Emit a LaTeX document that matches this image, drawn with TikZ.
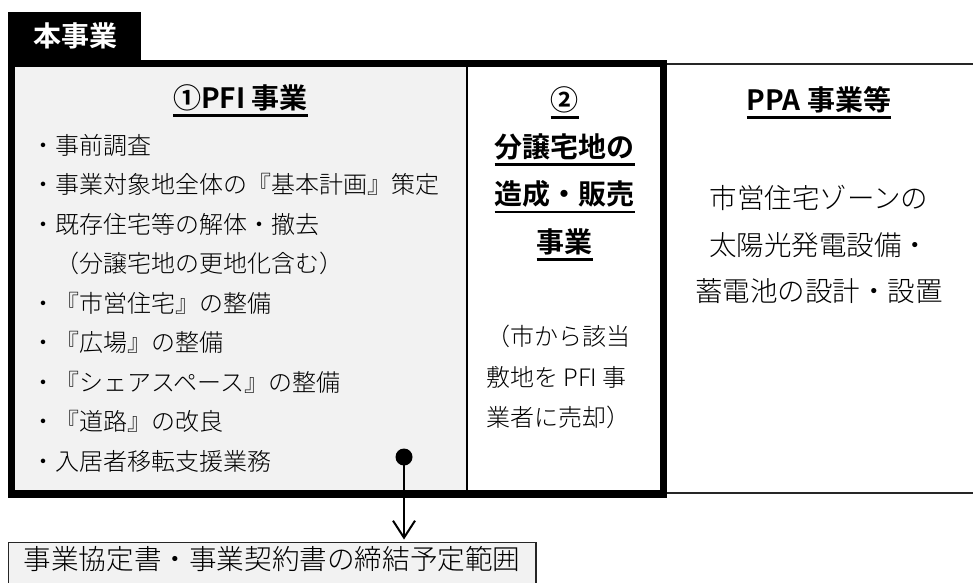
\documentclass[tikz,border=0pt]{standalone}
\usepackage{fontspec}
\setmainfont{Noto Sans CJK JP}[UprightFont=* Light, BoldFont=* Bold]
\usetikzlibrary{arrows.meta}
\definecolor{lightfill}{HTML}{F2F2F2}
\newsavebox\ulbox
\newcommand\myul[1]{\sbox\ulbox{#1}\rlap{\rule[-8.6pt]{\wd\ulbox}{2.2pt}}\usebox\ulbox}
\tikzset{
  itemtext/.style={font=\fontsize{24}{28}\selectfont, inner sep=0pt, anchor=base west},
  headtext/.style={font=\fontsize{28}{32}\selectfont\bfseries, inner sep=0pt, anchor=base},
  ppatext/.style={font=\fontsize{27.5}{32}\selectfont, inner sep=0pt, anchor=base},
  agreetext/.style={font=\fontsize{27.6}{32}\selectfont, inner sep=0pt, anchor=base},
  thickframe/.style={line width=7.5pt},
  thinframe/.style={line width=1.4pt, draw=black!85},
  conn/.style={line width=2pt, -{Straight Barb[length=17pt, width=22pt, line width=2pt]}, shorten >=3pt},
}
\begin{document}
\begin{tikzpicture}[x=1pt, y=-1pt]
\useasboundingbox (0,0) rectangle (973,582);
% PPA box (thin, runs off right edge)
\draw[thinframe, fill=white] (663,64) rectangle (990,493);
% column fills
\fill[lightfill] (15,67) rectangle (466,490);
\fill[white] (466,67) rectangle (660,490);
\draw[line width=2pt] (466.5,67) -- (466.5,490);
% thick frame
\draw[thickframe] (11.5,63.5) rectangle (663.5,494);
% tab
\fill[black] (8,12) rectangle (141,60);
\node[headtext, text=white] (tab) at (75,46.5) {本事業};
% column 1
\node[headtext] (h1) at (240.5,108) {\myul{①PFI 事業}};
\foreach \t [count=\i] in {・事前調査,・事業対象地全体の『基本計画』策定,・既存住宅等の解体・撤去,　（分譲宅地の更地化含む）,・『市営住宅』の整備,・『広場』の整備,・『シェアスペース』の整備,・『道路』の改良,・入居者移転支援業務}
  \node[itemtext] (p\i) at (31,{154+(\i-1)*39.5}) {\t};
% column 2
\node[headtext] (h2a) at (564.5,110) {\myul{②}};
\node[headtext] (h2b) at (564.5,157) {\myul{分譲宅地の}};
\node[headtext] (h2c) at (564.5,204.5) {\myul{造成・販売}};
\node[headtext] (h2d) at (564.5,252) {\myul{事業}};
\node[itemtext] (c2a) at (486,345) {（市から該当};
\node[itemtext] (c2b) at (486,386) {敷地を PFI 事};
\node[itemtext] (c2c) at (486,426) {業者に売却）};
% column 3
\node[headtext] (h3) at (819,110) {\myul{PPA 事業等}};
\node[ppatext] (q1) at (819,208.5) {市営住宅ゾーンの};
\node[ppatext] (q2) at (819,255) {太陽光発電設備・};
\node[ppatext] (q3) at (819,301.5) {蓄電池の設計・設置};
% bottom box
\draw[draw=black!85, line width=1.2pt, fill=lightfill] (8.5,542.5) rectangle (536,592);
\coordinate (agreetop) at (404,542.5);
\node[agreetext] (agree) at (272,569.5) {事業協定書・事業契約書の締結予定範囲};
% connector
\node[circle, fill=black, minimum size=17pt, inner sep=0pt] (dot) at (404,457) {};
\draw[conn] (dot.center) -- (agreetop);
\end{tikzpicture}
\end{document}
